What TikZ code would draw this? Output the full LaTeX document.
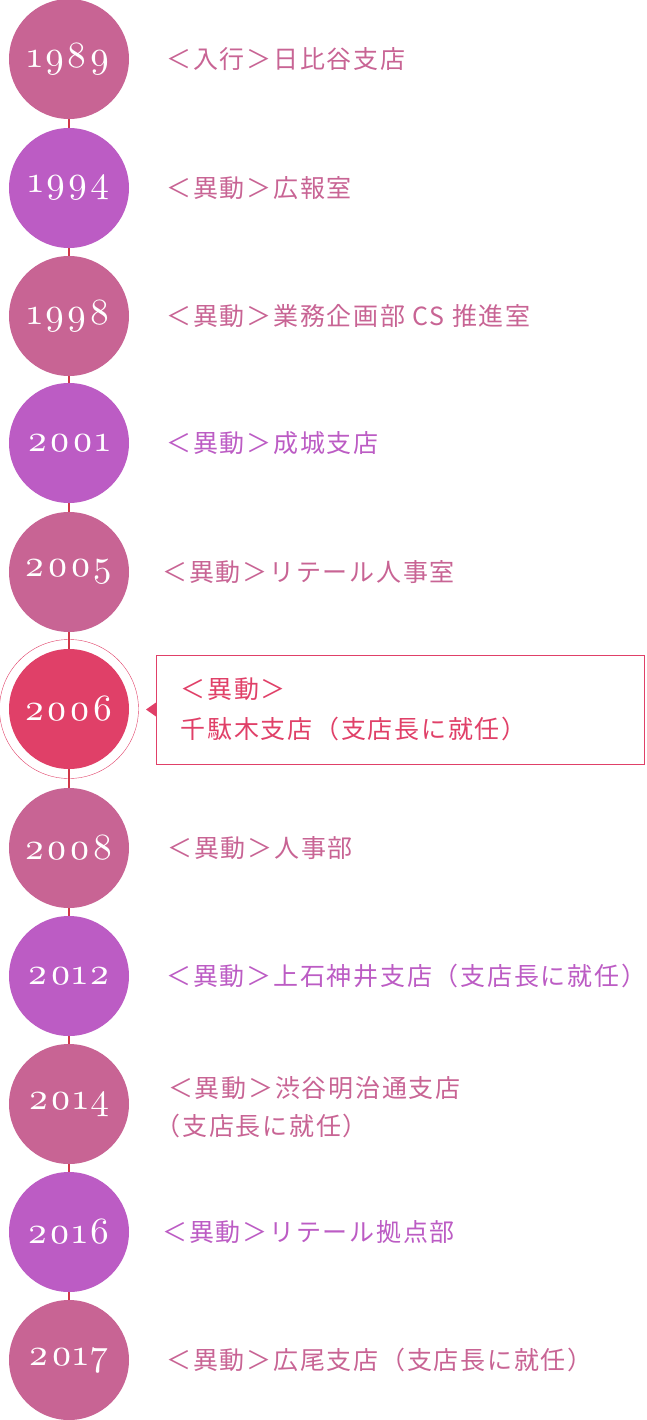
\documentclass[tikz,border=0pt]{standalone}
\usepackage{fontspec}
\usepackage{tikz}
\usetikzlibrary{positioning}
\newfontfamily\jpfont{Noto Sans CJK JP}[LetterSpace=7]
\newfontfamily\yearfont{lmroman10-regular.otf}[Numbers=OldStyle,LetterSpace=5]
\definecolor{rosec}{HTML}{C86494}
\definecolor{violetc}{HTML}{BC5CC4}
\definecolor{crimsonc}{HTML}{E04068}
\definecolor{linkc}{HTML}{D03848}

\begin{document}
\begin{tikzpicture}[x=1pt,y=-1pt,
	year/.style={circle,minimum size=120pt,inner sep=0pt,text=white,font=\yearfont\fontsize{37}{37}\selectfont},
	entry/.style={inner sep=0pt,font=\jpfont\fontsize{25}{38}\selectfont,align=left},
	link/.style={draw=linkc,line width=2pt}]
		\useasboundingbox (0,0) rectangle (646,1420);
		\node[year,fill=rosec] (c1989) at (69,59) {1989}; \node[entry,text=rosec,right=37pt of c1989] (t1989) {＜入行＞日比谷支店};
		\node[year,fill=violetc] (c1994) at (69,188) {1994}; \node[entry,text=rosec,right=37pt of c1994] (t1994) {＜異動＞広報室};
		\node[year,fill=rosec] (c1998) at (69,316) {1998}; \node[entry,text=rosec,right=37pt of c1998] (t1998) {＜異動＞業務企画部 CS 推進室};
		\node[year,fill=violetc] (c2001) at (69,443) {2001}; \node[entry,text=violetc,right=37pt of c2001] (t2001) {＜異動＞成城支店};
		\node[year,fill=rosec] (c2005) at (69,572) {2005}; \node[entry,text=rosec,right=33pt of c2005] (t2005) {＜異動＞リテール人事室};

		% highlighted year
		\node[year,fill=crimsonc] (c2006) at (69,709) {2006}; \node[circle,draw=crimsonc,minimum size=139pt,inner sep=0pt] (r2006) at (c2006) {};
		\node[entry,draw=crimsonc,line width=1pt,anchor=west,minimum height=109pt,text width=440pt,inner xsep=24pt,text=crimsonc,font=\jpfont\fontsize{25}{40}\selectfont] (t2006) at (156,709.5) {＜異動＞\\千駄木支店（支店長に就任）};
		\fill[crimsonc] ([xshift=-10pt]t2006.west) -- ++(10,-7) -- ++(0,14) -- cycle;

		\node[year,fill=rosec] (c2008) at (69,848) {2008}; \node[entry,text=rosec,right=38pt of c2008] (t2008) {＜異動＞人事部};
		\node[year,fill=violetc] (c2012) at (69,976) {2012}; \node[entry,text=violetc,right=37pt of c2012] (t2012) {＜異動＞上石神井支店（支店長に就任）};
		\node[year,fill=rosec] (c2014) at (69,1104) {2014}; \node[entry,text=rosec,anchor=west] (t2014) at (168,1107) {＜異動＞渋谷明治通支店\\\hspace*{-12.5pt}（支店長に就任）};
		\node[year,fill=violetc] (c2016) at (69,1232) {2016}; \node[entry,text=violetc,right=33pt of c2016] (t2016) {＜異動＞リテール拠点部};
		\node[year,fill=rosec] (c2017) at (69,1360) {2017}; \node[entry,text=rosec,right=37pt of c2017] (t2017) {＜異動＞広尾支店（支店長に就任）};

		\draw[link] (c1989.south) -- (c1994.north); \draw[link] (c1994.south) -- (c1998.north); \draw[link] (c1998.south) -- (c2001.north);
		\draw[link] (c2001.south) -- (c2005.north); \draw[link] (c2005.south) -- (c2006.north); \draw[link] (c2006.south) -- (c2008.north);
		\draw[link] (c2008.south) -- (c2012.north); \draw[link] (c2012.south) -- (c2014.north); \draw[link] (c2014.south) -- (c2016.north);
		\draw[link] (c2016.south) -- (c2017.north);
	\end{tikzpicture}
\end{document}
